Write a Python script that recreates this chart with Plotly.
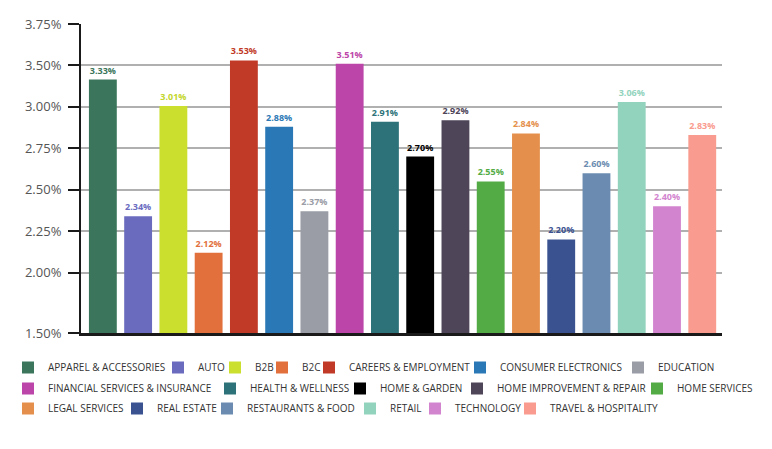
import numpy as np
import plotly.graph_objects as go

# ---------------- data ----------------
categories = [
    "APPAREL & ACCESSORIES", "AUTO", "B2B", "B2C", "CAREERS & EMPLOYMENT",
    "CONSUMER ELECTRONICS", "EDUCATION", "FINANCIAL SERVICES & INSURANCE",
    "HEALTH & WELLNESS", "HOME & GARDEN", "HOME IMPROVEMENT & REPAIR",
    "HOME SERVICES", "LEGAL SERVICES", "REAL ESTATE", "RESTAURANTS & FOOD",
    "RETAIL", "TECHNOLOGY", "TRAVEL & HOSPITALITY",
]
values = [3.33, 2.34, 3.01, 2.12, 3.53, 2.88, 2.37, 3.51, 2.91,
          2.70, 2.92, 2.55, 2.84, 2.20, 2.60, 3.06, 2.40, 2.83]

# axis tick values / labels as printed on the chart (uneven printed scale)
tick_values = [1.50, 2.00, 2.25, 2.50, 2.75, 3.00, 3.50, 3.75]
tick_labels = ["1.50%", "2.00%", "2.25%", "2.50%", "2.75%", "3.00%", "3.50%", "3.75%"]

# ---------------- style ----------------
colors = ["#3b765c", "#6a6bbf", "#cbdf2e", "#e2703d", "#c13a28", "#2a78b5",
          "#9a9ca6", "#bb45a8", "#2c7278", "#000000", "#4e4558", "#52ab44",
          "#e4904c", "#3b5290", "#6b8cb0", "#92d3bd", "#d384cf", "#f99b8e"]
label_colors = ["#3b765c", "#6a6bbf", "#c3d62c", "#e2703d", "#c13a28", "#2a78b5",
                "#9a9ca6", "#bb45a8", "#2c7278", "#000000", "#4e4558", "#52ab44",
                "#e4904c", "#3b5290", "#6b8cb0", "#92d3bd", "#d384cf", "#f99b8e"]
# legend layout (pixel placement of each legend entry's swatch, and row centre)
legend_swatch_x = [22, 172, 229, 276, 323, 474, 632,
                   22, 224, 354, 471, 651,
                   22, 131, 221, 364, 429, 524]
legend_row_y = [367.5] * 7 + [388.5] * 5 + [408.5] * 6

# printed axis is evenly spaced between printed ticks, with a longer first step
tick_pos = [0.0, 1.457, 2.457, 3.457, 4.457, 5.457, 6.457, 7.457]
def axis_scale(v):
    return np.interp(v, tick_values, tick_pos)

FONT = "Open Sans"
W, H = 772, 449
SWATCH_OFFSET = 14  # legend box left -> swatch left

fig = go.Figure()
legend_layouts = {}
for i, (cat, val) in enumerate(zip(categories, values)):
    lname = "legend" if i == 0 else f"legend{i + 1}"
    fig.add_trace(go.Bar(
        x=[cat], y=[axis_scale(val)],
        name=cat,
        marker=dict(color=colors[i], line=dict(width=0)),
        width=0.79,
        text=[f"{val:.2f}%"],
        textposition="outside",
        textfont=dict(family=FONT, size=9, color=label_colors[i], weight=700),
        cliponaxis=False,
        customdata=[val],
        hovertemplate="%{x}: %{customdata:.2f}%<extra></extra>",
        legend=lname,
    ))
    legend_layouts[lname] = dict(
        orientation="h", xref="container", yref="container",
        xanchor="left", yanchor="middle",
        x=max(0.0, (legend_swatch_x[i] - SWATCH_OFFSET) / W),
        y=1 - legend_row_y[i] / H,
        font=dict(family=FONT, size=10, color="#333333"),
        bgcolor="rgba(0,0,0,0)", borderwidth=0,
    )

fig.update_layout(
    width=W, height=H, autosize=False,
    margin=dict(l=81, r=50, t=24, b=116, autoexpand=False),
    paper_bgcolor="white", plot_bgcolor="white",
    barmode="overlay",
    showlegend=True,
    xaxis=dict(
        type="category", categoryorder="array", categoryarray=categories,
        range=[-0.62, 17.56], showticklabels=False, ticks="",
        showline=True, linecolor="#1a1a1a", linewidth=2.5,
        showgrid=False, zeroline=False,
    ),
    yaxis=dict(
        range=[0, tick_pos[-1]], tickmode="array",
        tickvals=tick_pos, ticktext=tick_labels,
        showgrid=True, gridcolor="#b0b0b0", gridwidth=1.5,
        showline=True, linecolor="#1a1a1a", linewidth=2,
        ticks="outside", ticklen=11, tickwidth=2, tickcolor="#1a1a1a",
        tickfont=dict(family=FONT, size=13, color="#555555"),
        ticklabelstandoff=4,
        zeroline=False,
    ),
    **legend_layouts,
)

fig.write_html(
    "out.html",
    config={"displayModeBar": False},
    post_script="document.body.style.margin='0';document.body.style.overflow='hidden';",
)
